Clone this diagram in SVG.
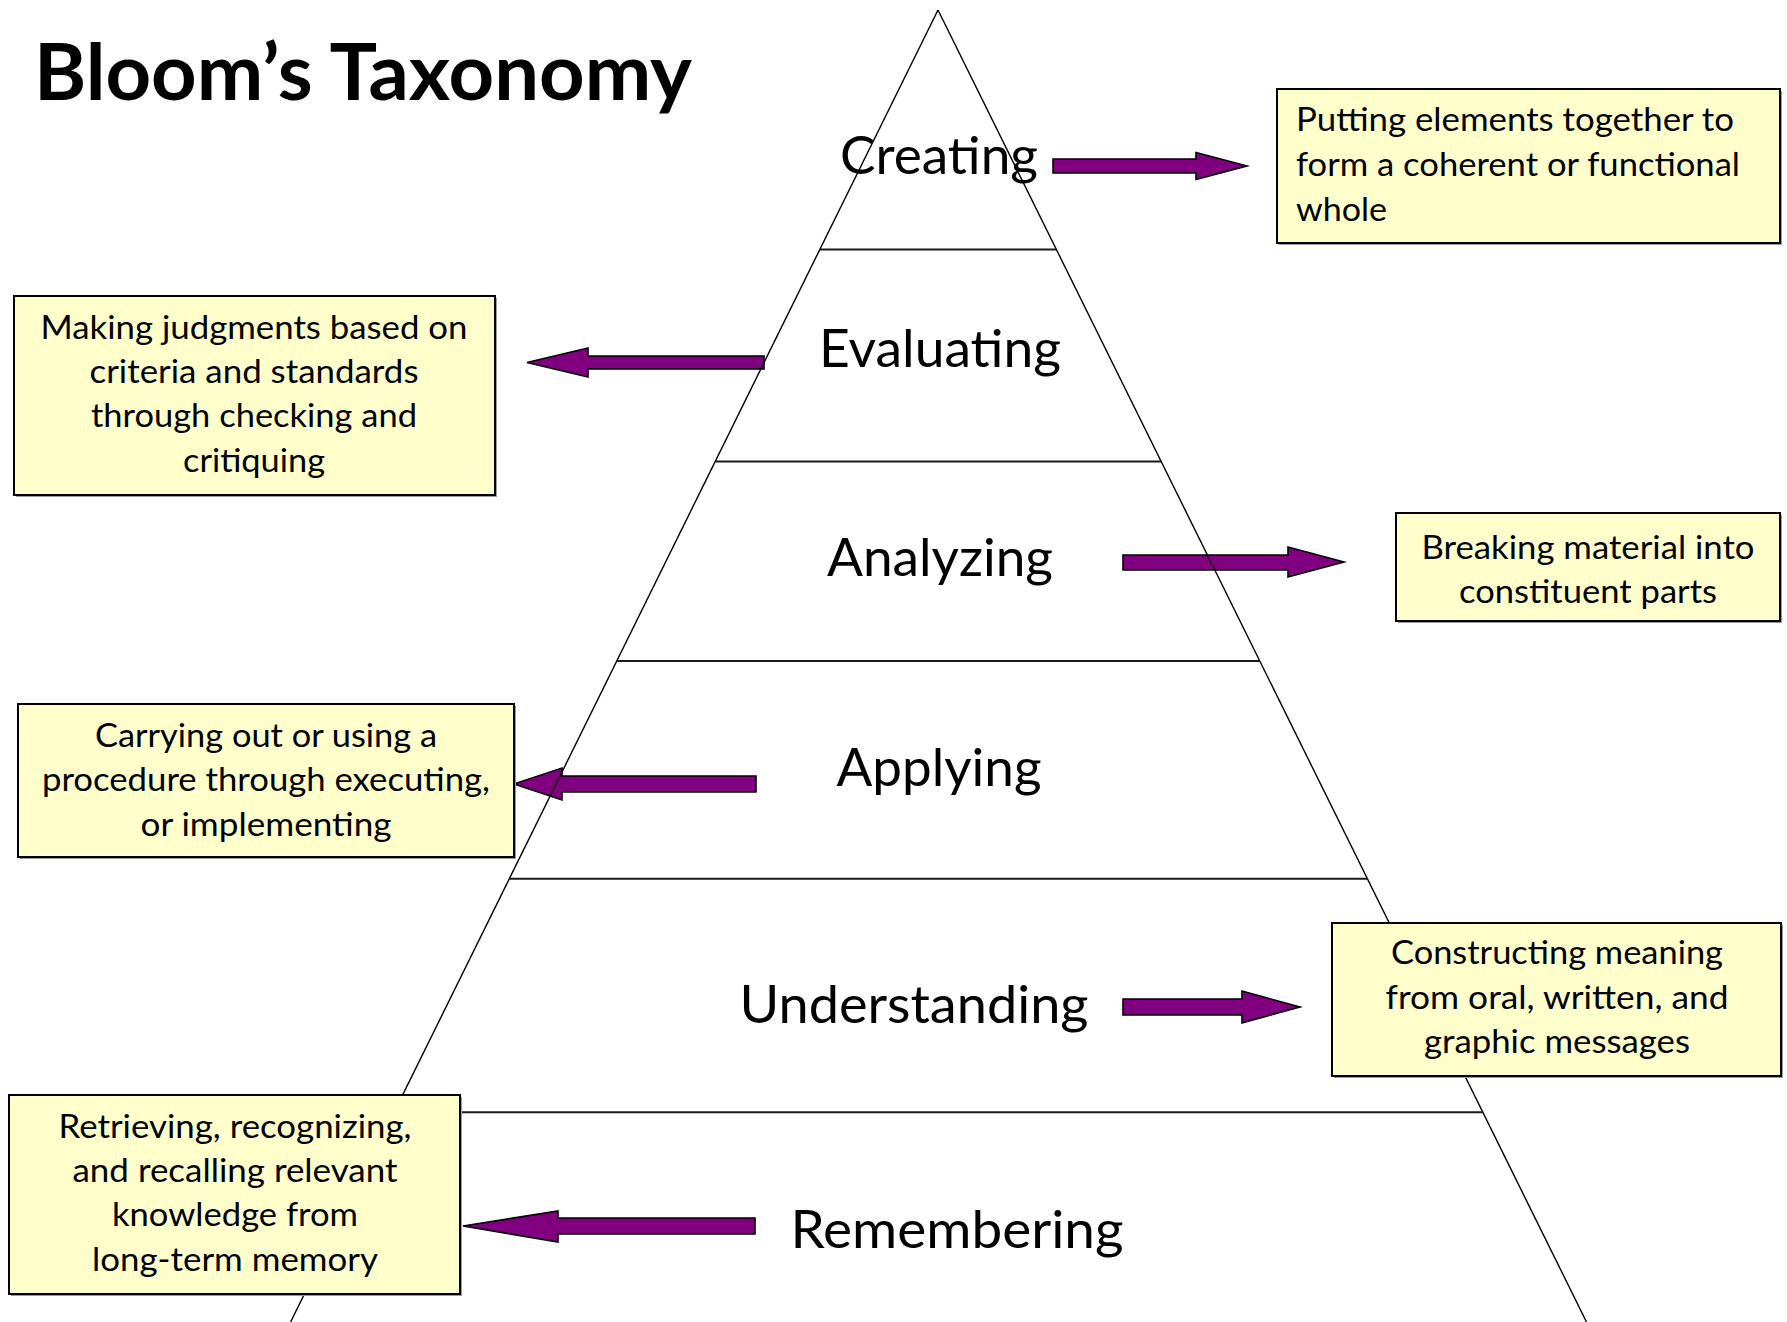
<svg xmlns="http://www.w3.org/2000/svg" width="1787" height="1322" viewBox="0 0 1787 1322">
<defs>
<style>
.title{font-family:Lato,"Open Sans","Liberation Sans",sans-serif;font-weight:bold;font-size:78px;fill:#000}
.lvl{font-family:Lato,"Open Sans","Liberation Sans",sans-serif;font-size:52px;fill:#000;text-anchor:middle}
.bt{font-family:Lato,"Open Sans","Liberation Sans",sans-serif;font-size:33px;fill:#000}
.c{text-anchor:middle}
.edge{stroke:#000;stroke-width:1.4;fill:none}
.hline{stroke:#1a1a1a;stroke-width:2;fill:none}
.arrow{fill:#800080;stroke:#000;stroke-width:1.6;stroke-linejoin:miter}
.box{fill:#FFFFCC;stroke:#000;stroke-width:2}
.shadow{fill:#9a9a9a}
</style>
</defs>
<rect width="1787" height="1322" fill="#fff"/>

<text id="title" class="title" x="34" y="100" textLength="658" lengthAdjust="spacingAndGlyphs">Bloom’s Taxonomy</text>

<g id="levels">
<text class="lvl" x="939" y="174" textLength="198" lengthAdjust="spacingAndGlyphs">Creating</text>
<text class="lvl" x="940" y="367" textLength="242" lengthAdjust="spacingAndGlyphs">Evaluating</text>
<text class="lvl" x="940" y="576" textLength="226" lengthAdjust="spacingAndGlyphs">Analyzing</text>
<text class="lvl" x="939" y="786" textLength="205" lengthAdjust="spacingAndGlyphs">Applying</text>
<text class="lvl" x="914" y="1023" textLength="349" lengthAdjust="spacingAndGlyphs">Understanding</text>
<text class="lvl" x="957" y="1248" textLength="333" lengthAdjust="spacingAndGlyphs">Remembering</text>
</g>

<g id="connectors">
<polygon class="arrow" points="1053,159 1196,159 1196,152.5 1247,166 1196,179.5 1196,173 1053,173"/>
<polygon class="arrow" points="764,356 588,356 588,348 527,362.5 588,377 588,369 764,369"/>
<polygon class="arrow" points="1123,555 1288,555 1288,547 1344,562 1288,577 1288,570 1123,570"/>
<polygon class="arrow" points="756,776 562,776 562,768 514,784 562,800 562,792 756,792"/>
<polygon class="arrow" points="1123,999 1242,999 1242,991 1300,1007 1242,1023 1242,1015 1123,1015"/>
<polygon class="arrow" points="755,1218 558,1218 558,1211 463,1226 558,1242 558,1234 755,1234"/>
</g>

<g id="pyramid">
<line class="edge" x1="938" y1="10" x2="290.6" y2="1322"/>
<line class="edge" x1="938" y1="10" x2="1586.5" y2="1322"/>
<line class="hline" x1="819.9" y1="249.6" x2="1056.3" y2="249.6"/>
<line class="hline" x1="715.2" y1="461.6" x2="1161.1" y2="461.6"/>
<line class="hline" x1="616.8" y1="661" x2="1259.7" y2="661"/>
<line class="hline" x1="509.4" y1="878.7" x2="1367.3" y2="878.7"/>
<line class="hline" x1="394" y1="1112.3" x2="1482.8" y2="1112.3"/>
</g>

<g id="box-creating">
<rect class="shadow" x="1279" y="91" width="503" height="154"/>
<rect class="box" x="1277" y="89" width="503" height="154"/>
<text class="bt" x="1296" y="131" textLength="438" lengthAdjust="spacingAndGlyphs">Putting elements together to</text>
<text class="bt" x="1296" y="176" textLength="444" lengthAdjust="spacingAndGlyphs">form a coherent or functional</text>
<text class="bt" x="1296" y="221" textLength="91" lengthAdjust="spacingAndGlyphs">whole</text>
</g>

<g id="box-evaluating">
<rect class="shadow" x="16" y="298" width="481" height="199"/>
<rect class="box" x="14" y="296" width="481" height="199"/>
<text class="bt c" x="254" y="338.5" textLength="427" lengthAdjust="spacingAndGlyphs">Making judgments based on</text>
<text class="bt c" x="254" y="383" textLength="329" lengthAdjust="spacingAndGlyphs">criteria and standards</text>
<text class="bt c" x="254" y="427" textLength="326" lengthAdjust="spacingAndGlyphs">through checking and</text>
<text class="bt c" x="254" y="472" textLength="142" lengthAdjust="spacingAndGlyphs">critiquing</text>
</g>

<g id="box-analyzing">
<rect class="shadow" x="1398" y="515" width="384" height="108"/>
<rect class="box" x="1396" y="513" width="384" height="108"/>
<text class="bt c" x="1588" y="558.5" textLength="333" lengthAdjust="spacingAndGlyphs">Breaking material into</text>
<text class="bt c" x="1588" y="603" textLength="258" lengthAdjust="spacingAndGlyphs">constituent parts</text>
</g>

<g id="box-applying">
<rect class="shadow" x="20" y="706" width="496" height="153"/>
<rect class="box" x="18" y="704" width="496" height="153"/>
<text class="bt c" x="266" y="746.5" textLength="342" lengthAdjust="spacingAndGlyphs">Carrying out or using a</text>
<text class="bt c" x="266" y="791" textLength="448" lengthAdjust="spacingAndGlyphs">procedure through executing,</text>
<text class="bt c" x="266" y="835.5" textLength="251" lengthAdjust="spacingAndGlyphs">or implementing</text>
</g>

<g id="box-understanding">
<rect class="shadow" x="1334" y="925" width="449" height="153"/>
<rect class="box" x="1332" y="923" width="449" height="153"/>
<text class="bt c" x="1557" y="964" textLength="332" lengthAdjust="spacingAndGlyphs">Constructing meaning</text>
<text class="bt c" x="1557" y="1009" textLength="343" lengthAdjust="spacingAndGlyphs">from oral, written, and</text>
<text class="bt c" x="1557" y="1053" textLength="266" lengthAdjust="spacingAndGlyphs">graphic messages</text>
</g>

<g id="box-remembering">
<rect class="shadow" x="11" y="1097" width="451" height="199"/>
<rect class="box" x="9" y="1095" width="451" height="199"/>
<text class="bt c" x="235" y="1137.5" textLength="353" lengthAdjust="spacingAndGlyphs">Retrieving, recognizing,</text>
<text class="bt c" x="235" y="1182" textLength="325" lengthAdjust="spacingAndGlyphs">and recalling relevant</text>
<text class="bt c" x="235" y="1226" textLength="246" lengthAdjust="spacingAndGlyphs">knowledge from</text>
<text class="bt c" x="235" y="1271" textLength="286" lengthAdjust="spacingAndGlyphs">long-term memory</text>
</g>
</svg>
